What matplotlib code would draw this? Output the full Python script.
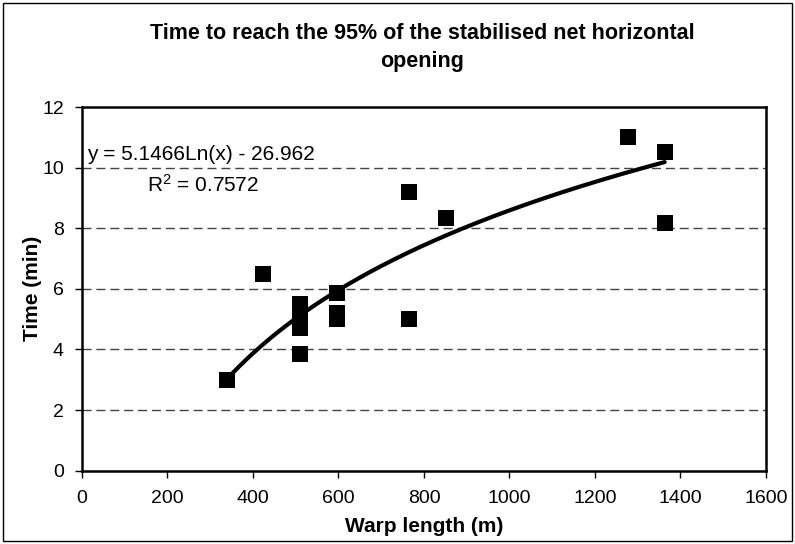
import numpy as np
import matplotlib
matplotlib.use("Agg")
import matplotlib.pyplot as plt
from matplotlib.patches import Rectangle

plt.rcParams['font.family'] = ['Liberation Sans', 'DejaVu Sans']

# data
warp_length = [340, 424, 510, 510, 510, 510, 510, 596, 596, 596, 766, 766, 851, 1277, 1363, 1363]
time_min = [3.0, 6.5, 5.5, 5.25, 5.0, 4.7, 3.85, 5.85, 5.2, 5.0, 9.2, 5.0, 8.33, 11.0, 10.5, 8.17]
fit_a = 5.1466
fit_b = -26.962
r_squared = 0.7572
x_ticks = [0, 200, 400, 600, 800, 1000, 1200, 1400, 1600]
y_ticks = [0, 2, 4, 6, 8, 10, 12]

fig = plt.figure(figsize=(7.95, 5.44), dpi=100)
ax = fig.add_axes([0.1031, 0.1347, 0.8604, 0.6686])

# outer chart border
fig.patches.append(Rectangle((0.004, 0.006), 0.992, 0.988, transform=fig.transFigure,
                             fill=False, edgecolor='black', linewidth=1.0))

for yv in y_ticks[1:-1]:
    ax.axhline(yv, color='#444444', linewidth=1.0, dashes=(6.5, 3.5), zorder=1)

ax.scatter(warp_length, time_min, marker='s', s=118, color='black', zorder=3, linewidths=0)

xs = np.linspace(min(warp_length), max(warp_length), 200)
ax.plot(xs, fit_a * np.log(xs) + fit_b, color='black', linewidth=3, solid_capstyle='round', zorder=4)

ax.set_xlim(0, 1600)
ax.set_ylim(0, 12)
ax.set_xticks(x_ticks)
ax.set_yticks(y_ticks)
ax.tick_params(direction='out', length=5, width=1, labelsize=14)
ax.tick_params(axis='x', pad=9)
ax.tick_params(axis='y', pad=8)
for s in ax.spines.values():
    s.set_linewidth(1.8)

ax.set_xlabel('Warp length (m)', fontsize=15, fontweight='bold', va='center')
ax.xaxis.set_label_coords(0.5, -0.152)
ax.set_ylabel('Time (min)', fontsize=15, fontweight='bold', va='center')
ax.yaxis.set_label_coords(-0.073, 0.5)

fig.text(0.531, 1 - 47.5 / 544, 'Time to reach the 95% of the stabilised net horizontal\nopening',
         fontsize=15.5, fontweight='bold', ha='center', va='center', linespacing=1.45)

ax.text(11, 10.42, 'y = %.4fLn(x) - %.3f' % (fit_a, -fit_b), fontsize=15, va='center', ha='left')
ax.text(152, 9.42, '$\\mathregular{R^2}$ = %.4f' % r_squared, fontsize=15, va='center', ha='left')

fig.savefig('out.png', dpi=100)
